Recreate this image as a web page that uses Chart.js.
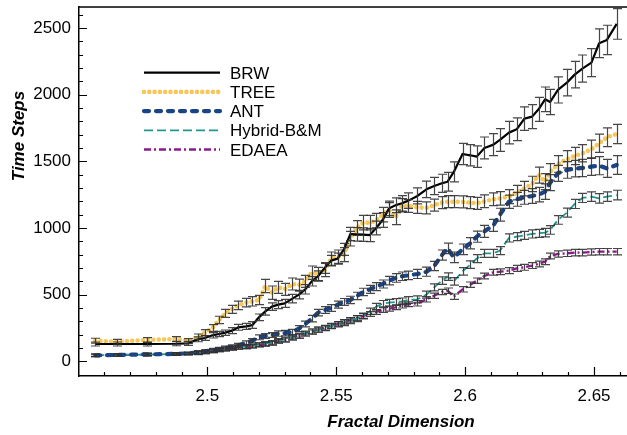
<!DOCTYPE html>
<html>
<head>
<meta charset="utf-8">
<script src="https://cdn.jsdelivr.net/npm/chart.js@4.4.1/dist/chart.umd.min.js"></script>
<style>
  html, body { margin: 0; padding: 0; background: #fff; overflow: hidden; }
  canvas { display: block; }
</style>
</head>
<body>
<canvas id="chart" width="627" height="435"></canvas>
<script>
// Fractal dimension of each test case (shared x values)
const fracDim = [2.4565, 2.465, 2.4765, 2.488, 2.4925, 2.4965, 2.499, 2.502, 2.5045, 2.507,
  2.5095, 2.512, 2.515, 2.5175, 2.52, 2.5225, 2.525, 2.5275, 2.53, 2.533,
  2.5355, 2.538, 2.5405, 2.543, 2.5455, 2.548, 2.5505, 2.553, 2.5555, 2.558,
  2.5605, 2.563, 2.5655, 2.568, 2.5705, 2.573, 2.5755, 2.578, 2.5815, 2.585,
  2.588, 2.591, 2.5932, 2.5956, 2.599, 2.602, 2.6045, 2.6075, 2.611, 2.6135,
  2.617, 2.62, 2.623, 2.626, 2.6285, 2.631, 2.633, 2.636, 2.6395, 2.6425,
  2.6455, 2.649, 2.652, 2.655, 2.6588];

// Mean time steps and error per algorithm
const brwSteps = [130,130,130,132,135, 165,175,195,205,215, 230,255,262,272,330, 375,410,425,435,470,
  500,540,600,640,700, 755,770,840,955,952, 950,947,1000,1060,1147, 1170,1185,1205,1240,1290,
  1315,1335,1347,1420,1555, 1545,1535,1600,1625,1660, 1715,1740,1820,1835,1890, 1965,1945,2035,2090,2150,
  2195,2240,2385,2410,2530];
const brwErr = [15,15,15,15,15, 18,18,20,20,20, 22,22,22,25,25, 28,28,30,30,32,
  32,35,35,38,40, 40,42,45,50,50, 50,50,52,55,55, 55,58,58,60,62,
  65,68,70,75,80, 80,80,82,82,85, 85,85,88,90,90, 92,95,98,100,100,
  102,105,108,110,115];

const treeSteps = [155,147,160,167,152, 185,215,250,310,360, 390,420,440,450,460, 565,515,555,540,580,
  572,600,665,655,685, 770,785,800,920,1000, 1040,1040,1055,1100,1135, 1080,1170,1165,1155,1150,
  1172,1190,1197,1197,1195, 1190,1185,1200,1215,1222, 1235,1265,1295,1330,1397, 1347,1420,1480,1515,1540,
  1560,1590,1635,1680,1705];
const treeErr = [18,18,18,18,18, 20,22,25,28,30, 30,32,32,35,35, 50,50,45,45,45,
  45,45,50,50,50, 50,50,52,55,55, 55,55,55,55,55, 55,50,48,45,45,
  45,45,45,45,45, 45,45,48,48,50, 52,55,55,58,60, 60,62,62,65,65,
  65,68,68,70,72];

const antSteps = [45,48,52,56,60, 68,75,85,90,100, 108,120,138,155,180, 190,197,208,212,220,
  245,280,320,365,385, 400,425,445,460,490, 520,540,560,580,605, 625,638,645,655,672,
  715,797,847,780,840, 885,935,975,1020,1100, 1197,1215,1230,1240,1250, 1272,1340,1410,1435,1445,
  1450,1460,1467,1447,1472];
const antErr = [10,10,10,10,10, 12,12,12,14,14, 15,15,16,16,18, 18,18,20,20,20,
  22,22,24,24,25, 25,26,26,28,28, 28,30,30,30,32, 32,32,32,34,34,
  35,38,40,40,40, 42,42,45,45,48, 50,52,52,55,55, 58,60,60,62,62,
  65,65,68,68,70];

const hybridSteps = [45,48,50,55,58, 62,70,78,85,92, 100,105,110,115,125, 132,140,155,163,178,
  192,208,224,238,250, 265,278,290,305,320, 340,375,410,432,440, 445,450,460,465,500,
  555,605,635,600,675, 725,770,810,810,830, 925,935,945,955,960, 965,985,1060,1115,1180,
  1225,1235,1222,1235,1247];
const hybridErr = [10,10,10,10,10, 12,12,12,12,14, 14,14,15,15,15, 16,16,16,18,18,
  18,18,20,20,20, 20,20,22,22,22, 22,24,24,24,25, 25,25,25,26,26,
  26,28,28,28,28, 28,30,30,30,30, 30,30,30,30,30, 32,32,32,34,34,
  34,35,35,36,36];

const edaeaSteps = [45,48,50,55,58, 62,68,76,82,88, 96,103,108,113,120, 128,136,150,160,175,
  188,205,220,235,250, 265,280,295,310,325, 340,355,370,385,395, 405,418,428,435,465,
  492,520,530,485,540, 575,605,640,668,672, 680,697,705,718,730, 747,790,805,810,815,
  815,820,822,822,822];
const edaeaErr = [8,8,8,8,8, 10,10,10,10,10, 12,12,12,12,12, 14,14,14,14,14,
  15,15,15,16,16, 16,16,16,16,18, 18,18,18,18,18, 18,18,18,20,20,
  20,20,20,20,20, 20,20,22,22,22, 22,22,22,22,22, 22,22,24,24,24,
  24,24,24,24,24];

const seriesNames = ['BRW', 'TREE', 'ANT', 'Hybrid-B&M', 'EDAEA'];

const xTickValues = [2.5, 2.55, 2.6, 2.65];
const xTickLabels = ['2.5', '2.55', '2.6', '2.65'];
const yTickValues = [0, 500, 1000, 1500, 2000, 2500];
const yTickLabels = ['0', '500', '1000', '1500', '2000', '2500'];

const xTitle = 'Fractal Dimension';
const yTitle = 'Time Steps';

const FONT = "'Liberation Sans', Arial, Helvetica, sans-serif";

function points(vals) {
  return fracDim.map((x, i) => ({ x: x, y: vals[i] }));
}

const styles = [
  { color: '#000000', width: 2.2, dash: [], cap: 'butt' },
  { color: '#f6c75c', width: 4.6, dash: [0, 5.3], cap: 'round' },
  { color: '#1b4485', width: 4.2, dash: [5, 7], cap: 'round' },
  { color: '#22968f', width: 1.8, dash: [9, 4], cap: 'butt' },
  { color: '#8c1b89', width: 2.3, dash: [7, 3, 2, 3], cap: 'butt' }
];
const seriesValues = [brwSteps, treeSteps, antSteps, hybridSteps, edaeaSteps];
const seriesErrors = [brwErr, treeErr, antErr, hybridErr, edaeaErr];

const datasets = seriesNames.map((name, i) => ({
  label: name,
  data: points(seriesValues[i]),
  errors: seriesErrors[i],
  borderColor: styles[i].color,
  backgroundColor: styles[i].color,
  borderWidth: styles[i].width,
  borderDash: styles[i].dash,
  borderCapStyle: styles[i].cap,
  borderJoinStyle: 'round',
  pointRadius: 0,
  tension: 0,
  fill: false
}));

// Vertical error bars with caps, drawn over the lines
const errorBars = {
  id: 'errorBars',
  afterDatasetsDraw(chart) {
    const { ctx, scales: { x, y }, chartArea } = chart;
    ctx.save();
    ctx.beginPath();
    ctx.rect(chartArea.left, chartArea.top - 1, chartArea.right - chartArea.left, chartArea.bottom - chartArea.top + 1);
    ctx.clip();
    ctx.strokeStyle = 'rgba(50,50,50,0.9)';
    ctx.lineWidth = 1.2;
    ctx.setLineDash([]);
    chart.data.datasets.forEach(ds => {
      ds.data.forEach((p, i) => {
        const e = ds.errors[i];
        const px = Math.round(x.getPixelForValue(p.x)) + 0.5;
        const top = y.getPixelForValue(p.y + e);
        const bot = y.getPixelForValue(p.y - e);
        ctx.beginPath();
        ctx.moveTo(px, top); ctx.lineTo(px, bot);
        ctx.moveTo(px - 4.5, top); ctx.lineTo(px + 4.5, top);
        ctx.moveTo(px - 4.5, bot); ctx.lineTo(px + 4.5, bot);
        ctx.stroke();
      });
    });
    ctx.restore();
  }
};

// Frame top line, inward tick marks, axis titles and the inset legend
const decor = {
  id: 'decor',
  afterDraw(chart) {
    const { ctx, scales: { x, y }, chartArea: a } = chart;
    ctx.save();
    ctx.strokeStyle = '#000';
    ctx.setLineDash([]);
    ctx.lineWidth = 1.5;
    ctx.beginPath();
    ctx.moveTo(a.left, a.top); ctx.lineTo(a.right, a.top);
    ctx.stroke();

    ctx.lineWidth = 1.2;
    ctx.beginPath();
    for (let k = 246; k <= 266; k++) {
      const v = k / 100;
      const px = Math.round(x.getPixelForValue(v)) + 0.5;
      const major = k % 5 === 0;
      ctx.moveTo(px, a.bottom); ctx.lineTo(px, a.bottom - (major ? 9 : 4));
    }
    for (let v = -100; v <= 2600; v += 100) {
      const py = Math.round(y.getPixelForValue(v)) + 0.5;
      const major = v % 500 === 0;
      ctx.moveTo(a.left, py); ctx.lineTo(a.left + (major ? 8 : 4), py);
    }
    ctx.stroke();

    ctx.fillStyle = '#000';
    ctx.font = 'italic bold 17px ' + FONT;
    ctx.textAlign = 'center';
    ctx.textBaseline = 'middle';
    ctx.fillText(xTitle, 401, 422);
    ctx.save();
    ctx.translate(19, 136);
    ctx.rotate(-Math.PI / 2);
    ctx.fillText(yTitle, 0, 0);
    ctx.restore();

    ctx.font = '17px ' + FONT;
    ctx.textAlign = 'left';
    chart.data.datasets.forEach((ds, i) => {
      const ly = 72.7 + i * 19.2;
      ctx.save();
      ctx.strokeStyle = ds.borderColor;
      ctx.lineWidth = ds.borderWidth;
      ctx.lineCap = ds.borderCapStyle;
      ctx.setLineDash(ds.borderDash);
      ctx.beginPath();
      ctx.moveTo(144, ly); ctx.lineTo(220, ly);
      ctx.stroke();
      ctx.restore();
      ctx.fillText(ds.label, 230, ly + 1.5);
    });
    ctx.restore();
  }
};

new Chart(document.getElementById('chart'), {
  type: 'line',
  data: { datasets },
  plugins: [errorBars, decor],
  options: {
    responsive: false,
    animation: false,
    devicePixelRatio: 1,
    layout: { padding: { top: 7, left: 0, right: 0, bottom: 0 } },
    plugins: { legend: { display: false }, tooltip: { enabled: false } },
    scales: {
      x: {
        type: 'linear',
        min: 2.4502,
        max: 2.6628,
        afterBuildTicks: s => { s.ticks = xTickValues.map(v => ({ value: v })); },
        afterFit: s => { s.height = 59; s.paddingLeft = 0; s.paddingRight = 0; },
        grid: { display: false, drawTicks: false },
        border: { display: true, color: '#000', width: 1.5 },
        ticks: {
          padding: 10, color: '#000', maxRotation: 0, autoSkip: false,
          font: { size: 17, family: FONT },
          callback: (v, i) => xTickLabels[i]
        }
      },
      y: {
        type: 'linear',
        min: -110,
        max: 2657,
        afterBuildTicks: s => { s.ticks = yTickValues.map(v => ({ value: v })); },
        afterFit: s => { s.width = 79; s.paddingTop = 0; s.paddingBottom = 0; },
        grid: { display: false, drawTicks: false },
        border: { display: true, color: '#000', width: 1.5 },
        ticks: {
          padding: 8, color: '#000', autoSkip: false,
          font: { size: 17, family: FONT },
          callback: (v, i) => yTickLabels[i]
        }
      }
    }
  }
});
</script>
</body>
</html>
